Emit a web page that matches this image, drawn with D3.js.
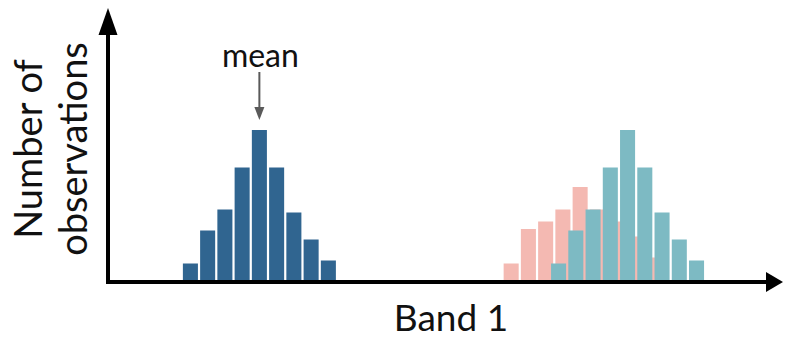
<!DOCTYPE html>
<html>
<head>
<meta charset="utf-8">
<script src="https://cdn.jsdelivr.net/npm/d3@7"></script>
<style>
  html, body { margin: 0; padding: 0; background: #fff; }
  svg { display: block; }
  text { font-family: Lato, "Noto Sans", sans-serif; fill: #111; }
</style>
</head>
<body>
<svg id="chart" width="785" height="339"></svg>
<script>
// Histogram counts per bin (bin width = 1 band unit)
const blueCounts = [1.1, 3.3, 4.7, 7.5, 10, 7.5, 4.5, 2.7, 1.3];
const pinkCounts = [1.1, 3.4, 3.9, 4.7, 6.2, 4.7, 3.9, 2.9, 1.5];
const tealCounts = [1.1, 3.3, 4.7, 7.5, 10, 7.5, 4.5, 2.7, 1.3];
// Left edge of the first bin of each histogram, in band units
const seriesNames = ["pink", "teal", "blue"];
const seriesStarts = [23.0, 25.75, 4.4];
const seriesColors = ["#f4b9b2", "#7dbac3", "#306590"];
const xLabel = "Band 1";
const yLabelLines = ["Number of", "observations"];
const meanLabel = "mean";

const svg = d3.select("#chart");

const x = d3.scaleLinear().domain([0, 39.2]).range([107, 783]);
const y = d3.scaleLinear().domain([0, 10]).range([280, 130]);

const countsBySeries = { pink: pinkCounts, teal: tealCounts, blue: blueCounts };
const step = x(1) - x(0);
const barW = step - 2.2;

seriesNames.forEach((name, si) => {
  const counts = countsBySeries[name];
  svg.append("g")
    .selectAll("rect")
    .data(counts)
    .join("rect")
      .attr("x", (d, i) => x(seriesStarts[si] + i))
      .attr("y", d => y(d))
      .attr("width", barW)
      .attr("height", d => y(0) - y(d))
      .attr("fill", seriesColors[si]);
});

// Axes with arrowheads
const axisY0 = 282;   // x-axis line position
const axisX0 = 108;   // y-axis line position
const axes = svg.append("g");
axes.append("line")
  .attr("x1", axisX0 - 2).attr("x2", x.range()[1] - 16)
  .attr("y1", axisY0).attr("y2", axisY0)
  .attr("stroke", "#000").attr("stroke-width", 4);
axes.append("line")
  .attr("x1", axisX0).attr("x2", axisX0)
  .attr("y1", axisY0 + 2).attr("y2", 30)
  .attr("stroke", "#000").attr("stroke-width", 4);
const xEnd = x.range()[1];
axes.append("path")
  .attr("d", `M${xEnd},${axisY0} L${xEnd - 17},${axisY0 - 10} L${xEnd - 17},${axisY0 + 10} Z`)
  .attr("fill", "#000");
axes.append("path")
  .attr("d", `M${axisX0},8 L${axisX0 - 9.5},35 L${axisX0 + 9.5},35 Z`)
  .attr("fill", "#000");

// Axis titles
svg.append("text")
  .attr("x", 451).attr("y", 331)
  .attr("text-anchor", "middle")
  .attr("font-size", 37)
  .text(xLabel);

yLabelLines.forEach((line, i) => {
  svg.append("text")
    .attr("transform", `translate(${42 + i * 45},149) rotate(-90)`)
    .attr("text-anchor", "middle")
    .attr("font-size", 38)
    .text(line);
});

// Mean annotation over the tallest bin of the blue histogram
const blueIdx = seriesNames.indexOf("blue");
const peak = d3.maxIndex(blueCounts);
const meanX = x(seriesStarts[blueIdx] + peak) + barW / 2;
svg.append("text")
  .attr("x", meanX + 1).attr("y", 67)
  .attr("text-anchor", "middle")
  .attr("font-size", 32)
  .text(meanLabel);
svg.append("line")
  .attr("x1", meanX).attr("x2", meanX)
  .attr("y1", 72).attr("y2", 108)
  .attr("stroke", "#5a5a5a").attr("stroke-width", 2);
svg.append("path")
  .attr("d", `M${meanX},${y(blueCounts[peak]) - 10} L${meanX - 5},${y(blueCounts[peak]) - 23} L${meanX + 5},${y(blueCounts[peak]) - 23} Z`)
  .attr("fill", "#5a5a5a");
</script>
</body>
</html>
